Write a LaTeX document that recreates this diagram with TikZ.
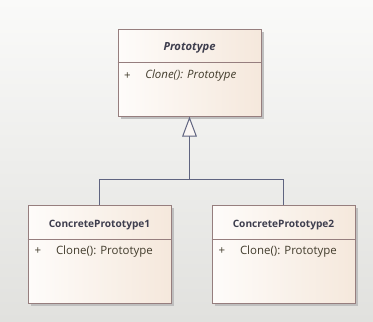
\documentclass[tikz,border=0pt]{standalone}
\usepackage{fontspec}
\setmainfont{Open Sans}
\usetikzlibrary{arrows.meta,shadows}

\definecolor{umlborder}{RGB}{150,126,126}
\definecolor{umlleft}{RGB}{254,252,250}
\definecolor{umlright}{RGB}{245,232,220}
\definecolor{umlline}{RGB}{95,100,128}
\definecolor{umltext}{RGB}{62,62,78}
\definecolor{optext}{RGB}{66,60,44}
\definecolor{trifill}{RGB}{250,246,244}
\definecolor{bgtop}{RGB}{250,250,249}
\definecolor{bgbottom}{RGB}{225,225,222}

\tikzset{
	classbox/.style={draw=umlborder, left color=umlleft, right color=umlright,
		minimum width=107.25pt, minimum height=73.3pt, inner sep=0pt,
		drop shadow={shadow xshift=2.25pt, shadow yshift=-2.25pt, fill=black!25, opacity=1}},
	classname/.style={font=\fontsize{7.6}{9}\selectfont\bfseries, text=umltext},
	member/.style={font=\fontsize{8.6}{10}\selectfont, text=optext, anchor=west, inner sep=0pt},
	inherit/.style={draw=umlline, line width=0.75pt},
}

\begin{document}
\begin{tikzpicture}[x=0.75pt, y=-0.75pt]
		\fill[top color=bgtop, bottom color=bgbottom] (0,0) rectangle (373,321);
		\useasboundingbox (0,0) rectangle (373,321);
		
		% the three classes
		\node[classbox, minimum height=65.25pt] (proto) at (189.5,72.8) {};
		\node[classbox] (cp1) at (99.5,254.2) {};
		\node[classbox] (cp2) at (283.5,254.2) {};
		
		\foreach \c in {proto, cp1, cp2}
			\draw[umlborder] (\c.north west) ++(0,33.7) -- ++(143,0);
		
		\node[classname, font=\fontsize{8.4}{10}\selectfont\bfseries\itshape, yshift=-14.25pt] (protoname) at (proto.north) {Prototype};
		\node[member] (protoplus) at ([xshift=4.5pt, yshift=-35pt]proto.north west) {+};
		\node[member] (protoop) at ([xshift=20.5pt, yshift=-35pt]proto.north west) {\itshape Clone(): Prototype};
		
		\node[classname, yshift=-14.75pt] (cp1name) at (cp1.north) {ConcretePrototype1};
		\node[member] (cp1plus) at ([xshift=5pt, yshift=-34.8pt]cp1.north west) {+};
		\node[member] (cp1op) at ([xshift=21pt, yshift=-34.8pt]cp1.north west) {Clone(): Prototype};
		
		\node[classname, yshift=-14.75pt] (cp2name) at (cp2.north) {ConcretePrototype2};
		\node[member] (cp2plus) at ([xshift=5pt, yshift=-34.8pt]cp2.north west) {+};
		\node[member] (cp2op) at ([xshift=21pt, yshift=-34.8pt]cp2.north west) {Clone(): Prototype};
		
		% generalization
		\coordinate (joint) at (189.5,179.5);
		\draw[inherit] (cp1.north) |- (joint) -| (cp2.north);
		\draw[inherit, -{Triangle[width=11pt, length=15pt, fill=trifill]}] (joint) -- (proto.south);
	\end{tikzpicture}
\end{document}
